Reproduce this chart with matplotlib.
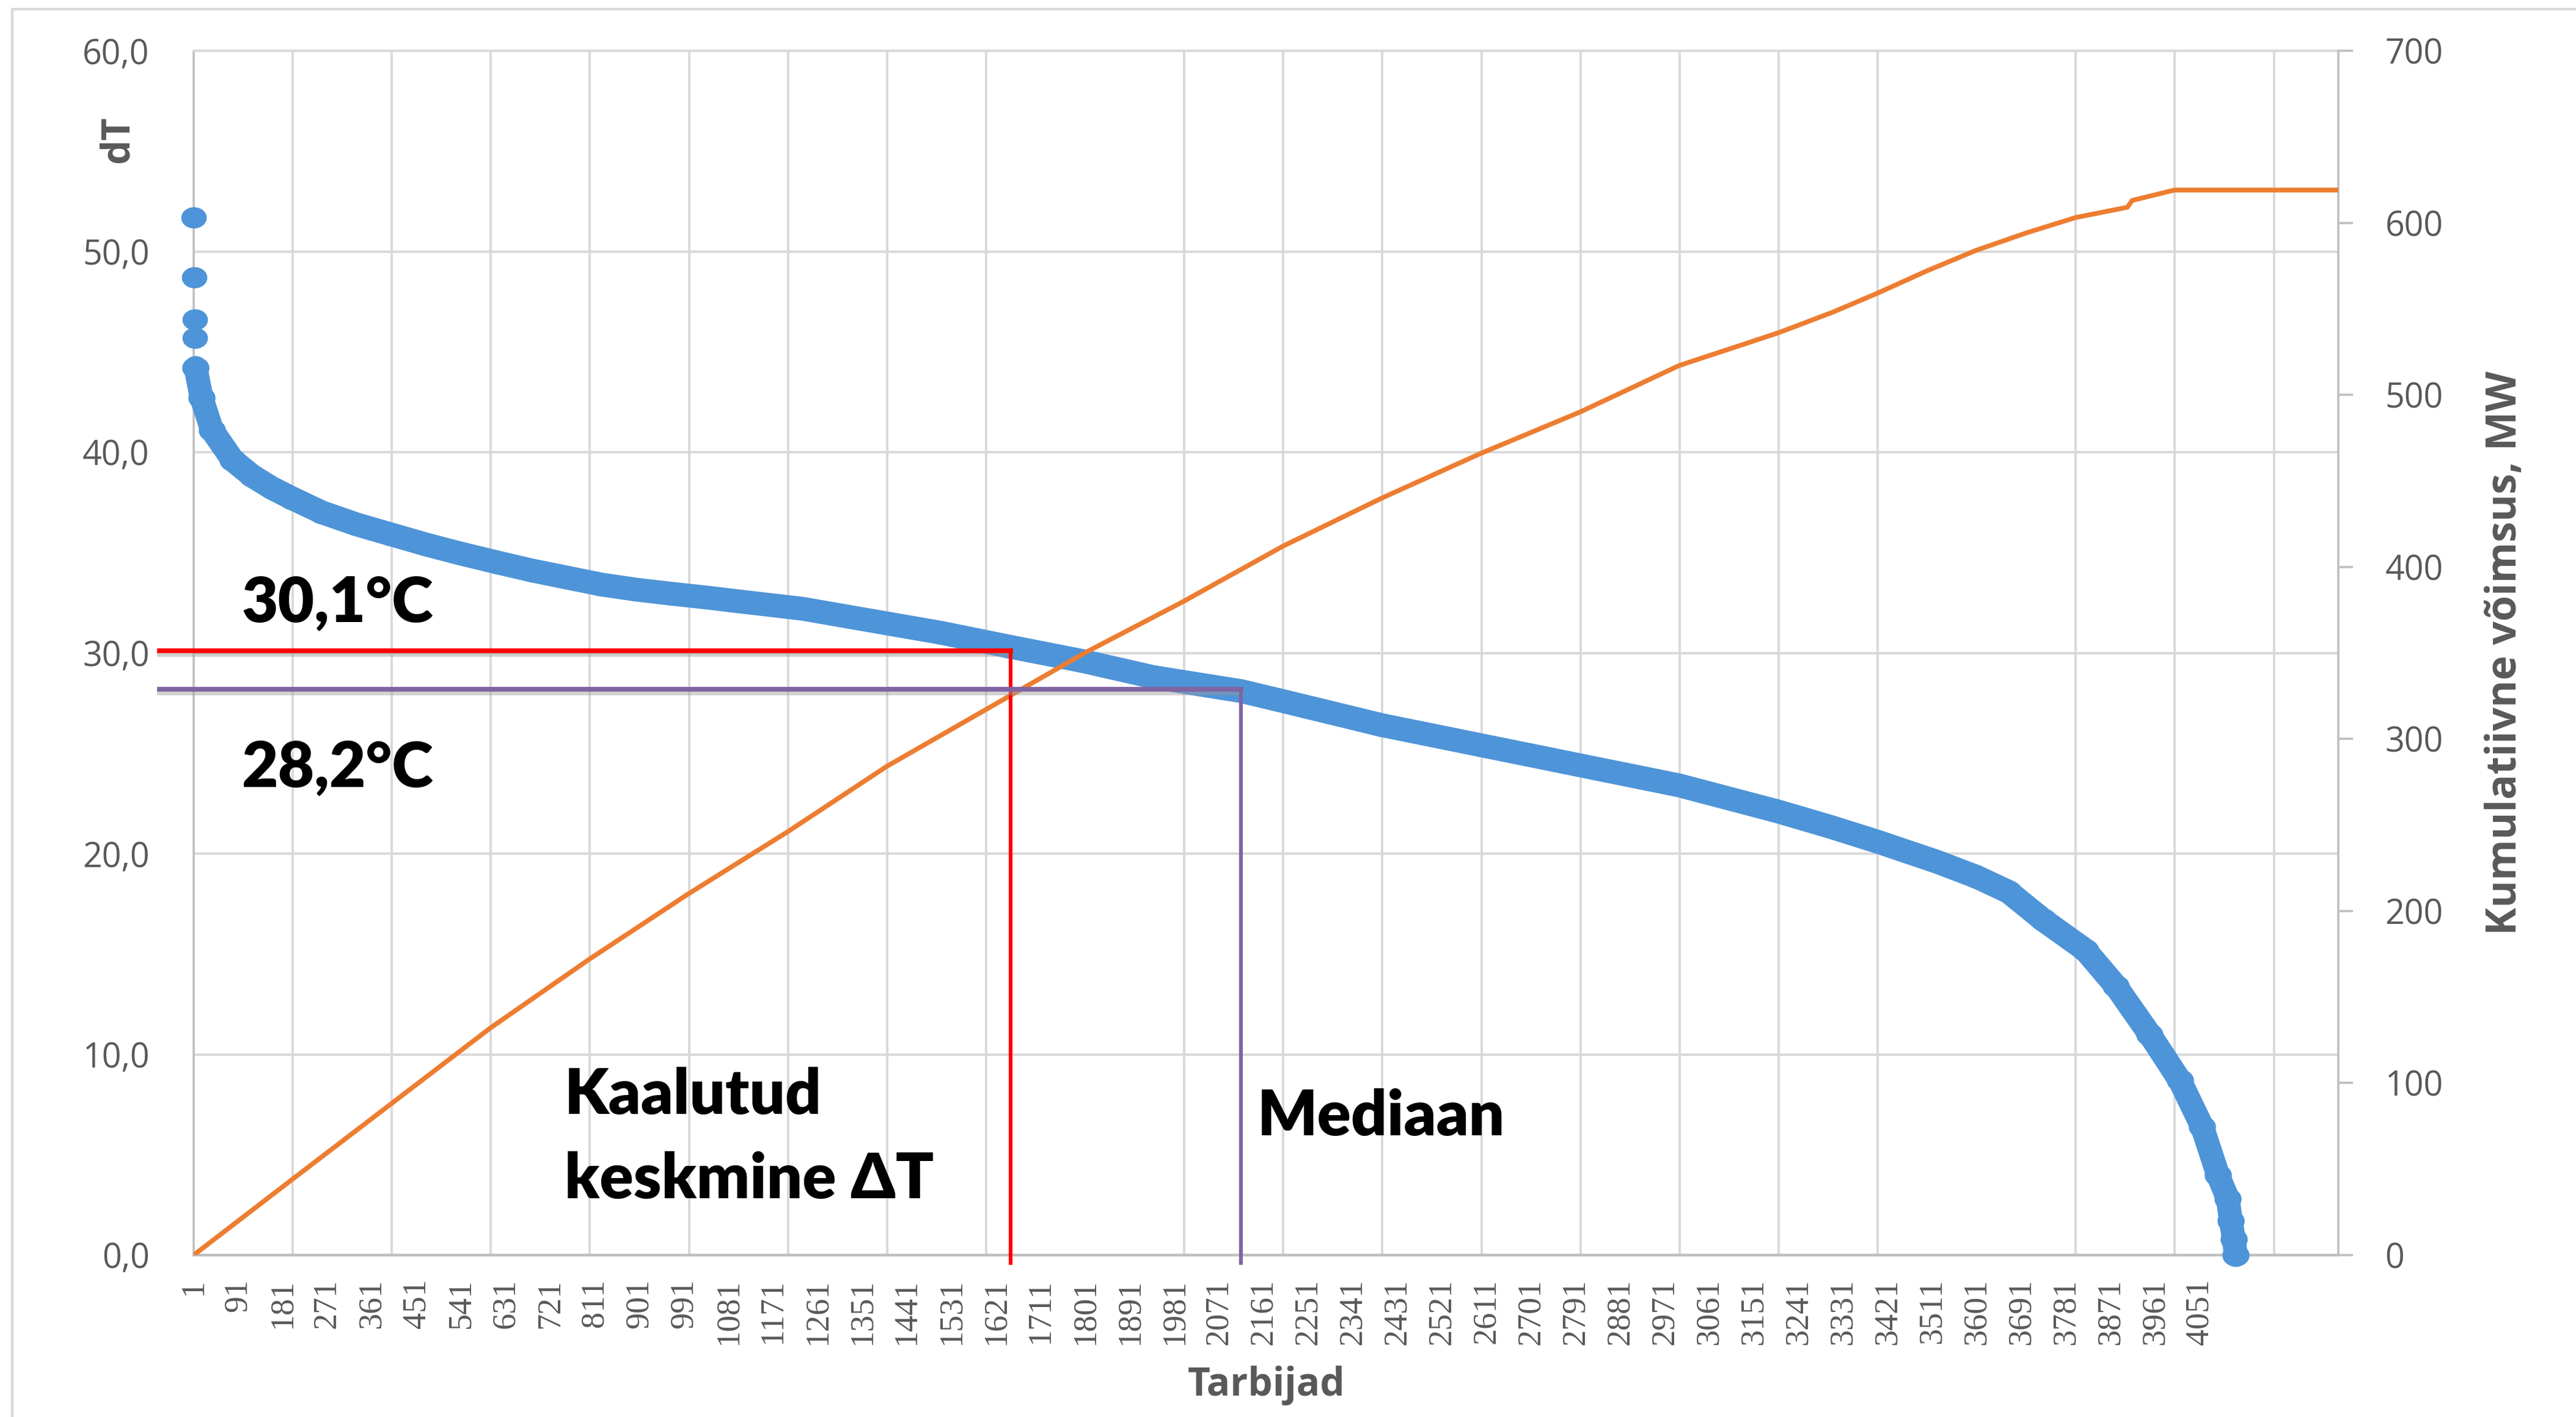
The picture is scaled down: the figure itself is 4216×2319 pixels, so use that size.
import numpy as np
import matplotlib
matplotlib.use('Agg')
import matplotlib.pyplot as plt
import matplotlib.patheffects as pe
from matplotlib.path import Path
from matplotlib.patches import Rectangle
from matplotlib.ticker import FuncFormatter

# dT per consumer, sorted descending (consumer index -> dT)
dt_idx = [1, 2, 3, 4, 5, 17, 38, 80, 120, 160, 200, 260, 330, 400, 470, 540,
          615, 685, 755, 825, 895, 965, 1040, 1090, 1230, 1370, 1510, 1650,
          1795, 1937, 2115, 2200, 2400, 2600, 2800, 3000, 3200, 3310, 3400,
          3520, 3600, 3665, 3735, 3820, 3882, 3950, 4011, 4056, 4088, 4108,
          4114, 4120, 4124]
dt_val = [51.7, 48.7, 46.6, 45.7, 44.2, 42.7, 41.1, 39.6, 38.8, 38.2, 37.7,
          37.0, 36.4, 35.9, 35.4, 34.95, 34.5, 34.1, 33.75, 33.4, 33.15, 32.95,
          32.75, 32.6, 32.2, 31.6, 31.0, 30.3, 29.6, 28.8, 28.1, 27.6, 26.4,
          25.4, 24.4, 23.4, 22.1, 21.3, 20.6, 19.6, 18.85, 18.1, 16.7, 15.2,
          13.4, 11.0, 8.7, 6.4, 4.0, 2.8, 1.7, 0.8, 0.0]

# cumulative capacity, MW
pw_idx = [1, 200, 400, 600, 800, 1000, 1200, 1400, 1600, 1800, 2000, 2200,
          2400, 2600, 2800, 3000, 3200, 3310, 3400, 3500, 3600, 3700, 3800,
          3905, 3915, 4000, 4330]
pw_mw = [0, 44, 88, 132, 172, 210, 246, 284, 317, 350, 380, 412, 440, 466,
         490, 517, 536, 548, 559, 572, 584, 594, 603, 609, 613, 619, 619]

n_total = 4331
x_labels = list(range(1, 4052, 90))
x_grid = list(range(1, n_total, 200))

weighted_mean = 30.1
weighted_mean_idx = 1650
median_dt = 28.2
median_idx = 2115

BLUE = '#4E94D8'
ORANGE = '#ED7D31'
GRAY_TXT = '#595959'
GRID = '#D9D9D9'
AXIS = '#BFBFBF'

W, H, DPI = 4216, 2319, 200
fig = plt.figure(figsize=(W / DPI, H / DPI), dpi=DPI)
ax = fig.add_axes([317 / W, 1 - 2054 / H, (3827 - 317) / W, (2054 - 83) / H])
ax2 = ax.twinx()

# grid and axes frame
ax.set_xlim(1, n_total)
ax.set_ylim(0, 60)
ax.set_yticks(np.arange(0, 61, 10))
ax.yaxis.set_major_formatter(FuncFormatter(lambda v, p: f'{v:.1f}'.replace('.', ',')))
ax.set_xticks(x_labels)
ax.set_xticklabels([str(v) for v in x_labels], rotation=90,
                   fontfamily='Liberation Serif', fontsize=19.5, color=GRAY_TXT,
                   va='top', ha='center')
ax.set_xticks(x_grid, minor=True)
ax.grid(axis='y', which='major', color=GRID, lw=1.4)
ax.grid(axis='x', which='minor', color=GRID, lw=1.4)
ax.set_axisbelow(True)
ax.tick_params(axis='x', which='both', length=0, pad=14)
ax.tick_params(axis='y', length=0, pad=26, labelsize=20, labelcolor=GRAY_TXT)
for lbl in ax.get_yticklabels():
    lbl.set_fontfamily('Open Sans')
ax.spines['top'].set_color(GRID)
ax.spines['top'].set_linewidth(1.4)
ax.spines['right'].set_visible(False)
ax.spines['left'].set_color(AXIS)
ax.spines['left'].set_linewidth(1.3)
ax.spines['bottom'].set_color(AXIS)
ax.spines['bottom'].set_linewidth(1.6)

ax2.set_ylim(0, 700)
ax2.set_yticks(np.arange(0, 701, 100))
ax2.tick_params(axis='y', direction='out', length=8.5, width=1.3, color=AXIS,
                pad=19, labelsize=20, labelcolor=GRAY_TXT)
for lbl in ax2.get_yticklabels():
    lbl.set_fontfamily('Open Sans')
for s in ['top', 'left', 'bottom']:
    ax2.spines[s].set_visible(False)
ax2.spines['right'].set_color(AXIS)
ax2.spines['right'].set_linewidth(1.3)

# dT series: slightly oval markers, dense band drawn as a thick round line
t = np.linspace(0, 2 * np.pi, 64)
oval = Path(np.column_stack([np.cos(t), 0.82 * np.sin(t)]), closed=True)
ax.plot(dt_idx[:4], dt_val[:4], ls='none', marker=oval, ms=14,
        color=BLUE, mec=BLUE, clip_on=False, zorder=3)
ax.plot(dt_idx[4:], dt_val[4:], color=BLUE, lw=14, solid_capstyle='round',
        solid_joinstyle='round', marker=oval, ms=15, mec=BLUE,
        clip_on=False, zorder=3)

# cumulative capacity
ax2.plot(pw_idx, pw_mw, color=ORANGE, lw=2.8, solid_joinstyle='round', zorder=3)

# weighted mean and median guides
x0, x1 = ax.get_xlim()
x_start = x0 - 0.016 * (x1 - x0)
y_low = -0.4
shadow = [pe.SimpleLineShadow(offset=(0, -2.2), shadow_color='#9A9A9A', alpha=0.45),
          pe.Normal()]
tr = ax.transData
ax2.plot([x_start, weighted_mean_idx], [weighted_mean, weighted_mean], color='#FF0000',
         lw=2.8, transform=tr, clip_on=False, zorder=5, path_effects=shadow)
ax2.plot([weighted_mean_idx, weighted_mean_idx], [weighted_mean, y_low], color='#FF0000',
         lw=2.2, transform=tr, clip_on=False, zorder=5)
ax2.plot([x_start, median_idx], [median_dt, median_dt], color='#8064A2',
         lw=2.8, transform=tr, clip_on=False, zorder=5, path_effects=shadow)
ax2.plot([median_idx, median_idx], [median_dt, y_low], color='#8064A2',
         lw=2.2, transform=tr, clip_on=False, zorder=5)

note = dict(fontfamily=['Lato', 'DejaVu Sans'], fontweight='heavy',
            fontsize=37, color='black', va='baseline', ha='left',
            transform=tr, zorder=6)
ax2.text(98, 31.57, f'{weighted_mean:.1f}°C'.replace('.', ','), **note)
ax2.text(98, 23.35, f'{median_dt:.1f}°C'.replace('.', ','), **note)
ax2.text(750, 7.03, 'Kaalutud', **note)
ax2.text(750, 2.83, 'keskmine ΔT', **note)
ax2.text(2148, 5.97, 'Mediaan', **note)

# axis titles
title = dict(fontfamily='Open Sans', fontweight='bold', fontsize=23, color=GRAY_TXT,
             ha='center', va='center')
fig.text(193 / W, 1 - 228 / H, 'dT', rotation=90, **title)
fig.text(2073 / W, 1 - 2267 / H, 'Tarbijad', **title)
fig.text(4100 / W, 1 - 1069 / H, 'Kumulatiivne võimsus, MW', rotation=90,
         **{**title, 'fontsize': 24.5})

# chart area border
fig.patches.append(Rectangle((20 / W, -0.1), 1.2, 1.1 - 15 / H, transform=fig.transFigure,
                             fill=False, ec=GRID, lw=1.5))

fig.savefig('out.png', dpi=DPI)
